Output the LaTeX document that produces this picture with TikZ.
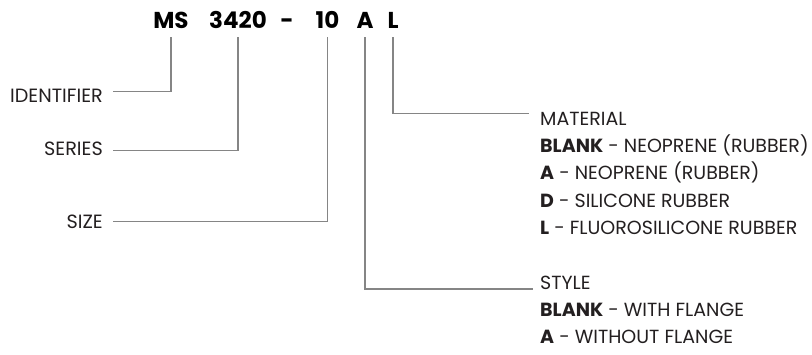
\documentclass[tikz,border=0pt]{standalone}
\usepackage{fontspec}
\setmainfont{Poppins}
\definecolor{linegray}{HTML}{858585}
\definecolor{txt}{HTML}{231F20}
\begin{document}
\begin{tikzpicture}[x=1pt,y=-1pt,
  conn/.style={draw=linegray, line width=1.5pt},
  ttl/.style={anchor=base, inner sep=0pt, font=\fontsize{23}{26}\selectfont\bfseries, text=black},
  lbl/.style={anchor=base east, inner sep=0pt, font=\fontsize{19.2}{22}\selectfont, text=txt},
  item/.style={anchor=base west, inner sep=0pt, font=\fontsize{19}{22}\selectfont, text=txt}]
\useasboundingbox (0,0) rectangle (812,354);
% title code
\node[ttl] (ms)   at (171,28)   {MS};
\node[ttl] (ser)  at (238,28)   {3420};
\node[ttl] (dash) at (287,28)   {-};
\node[ttl] (sz)   at (327.5,28) {10};
\node[ttl] (st)   at (365,28)   {A};
\node[ttl] (mat)  at (393,28)   {L};
% left labels
\node[lbl] (ident)  at (103,102) {IDENTIFIER};
\node[lbl] (series) at (103,155) {SERIES};
\node[lbl] (size)   at (103,228) {SIZE};
% material block
\node[item] (mathead) at (540,125.2) {MATERIAL};
\node[item] (m1) at (540,152.5) {\textbf{BLANK} - NEOPRENE (RUBBER)};
\node[item] (m2) at (540,179.8) {\textbf{A} - NEOPRENE (RUBBER)};
\node[item] (m3) at (540,207.1) {\textbf{D} - SILICONE RUBBER};
\node[item] (m4) at (540,234.4) {\textbf{L} - FLUOROSILICONE RUBBER};
% style block
\node[item] (sthead) at (540,289) {STYLE};
\node[item] (s1) at (540,316.3) {\textbf{BLANK} - WITH FLANGE};
\node[item] (s2) at (540,343.6) {\textbf{A} - WITHOUT FLANGE};
% connectors
\draw[conn] ([yshift=-9pt]ms.base)  |- ([xshift=10pt,yshift=4pt]ident.east);
\draw[conn] ([yshift=-9pt]ser.base) |- ([xshift=10pt,yshift=-2pt]series.east);
\draw[conn] ([yshift=-9pt]sz.base)  |- ([xshift=10pt]size.east);
\draw[conn] ([yshift=-9pt]mat.base) |- ([xshift=-11pt,yshift=5pt]mathead.west);
\draw[conn] ([yshift=-9pt]st.base)  |- ([xshift=-7pt]sthead.base west);
\end{tikzpicture}
\end{document}
